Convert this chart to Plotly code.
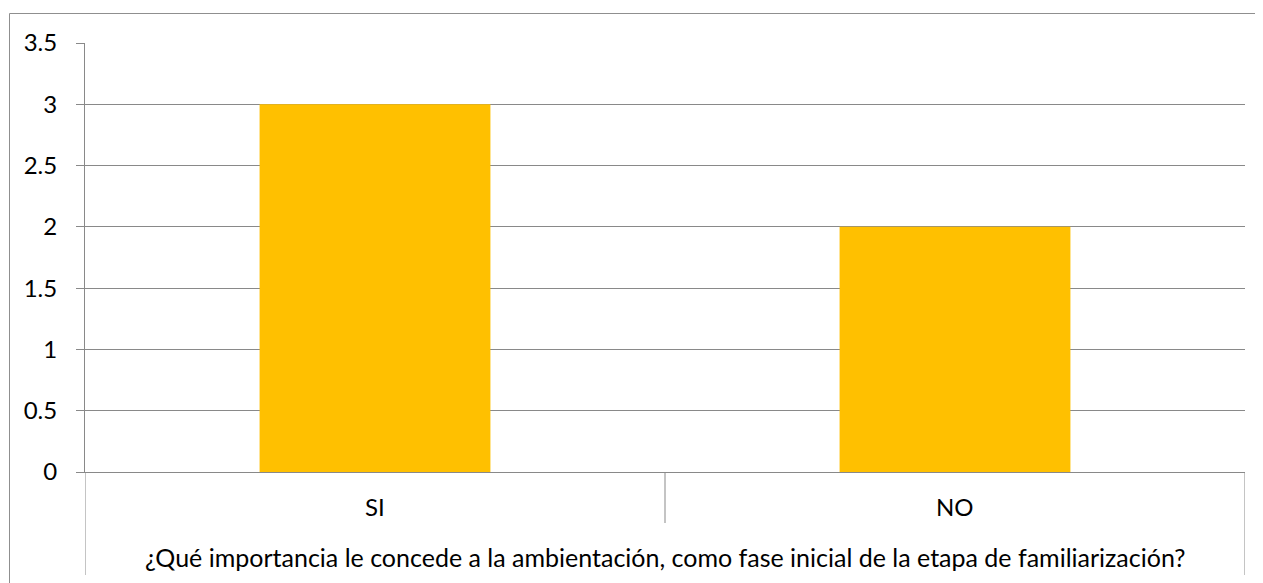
import plotly.graph_objects as go

categories = ["SI", "NO"]
values = [3, 2]
y_ticks = [0, 0.5, 1, 1.5, 2, 2.5, 3, 3.5]
y_tick_labels = ["0", "0.5", "1", "1.5", "2", "2.5", "3", "3.5"]
axis_title = "¿Qué importancia le concede a la ambientación, como fase inicial de la etapa de familiarización?"

FONT = "Lato"
GRID = "#898989"
BAR = "#FFC000"
FS = 24

# page has an 8px body margin; figure coordinates below are page coords minus 8
W, H = 1255, 575
L, R, T, B = 77, 18, 35, 111
ph = H - T - B
pw = W - L - R

def py(pix):
    return (H - B - pix) / ph

def px(pix):
    return (pix - L) / pw

fig = go.Figure()
fig.add_trace(go.Bar(x=categories, y=values, marker=dict(color=BAR, line=dict(width=0)),
                     width=0.398, showlegend=False))

# category table lines below the axis
for xv, bottom in [(-0.5, 567), (0.5, 515), (1.5, 567)]:
    fig.add_shape(type="line", xref="x", yref="paper", x0=xv, x1=xv, y0=0, y1=py(bottom),
                  line=dict(color=GRID, width=1))

# outer chart border
fig.add_shape(type="rect", xref="paper", yref="paper", x0=px(1.5), x1=px(1254.5),
              y0=py(590), y1=py(5.5), line=dict(color="#8f8f8f", width=1))

for c in categories:
    fig.add_annotation(x=c, xref="x", yref="paper", y=py(498), text=c, showarrow=False,
                       font=dict(family=FONT, size=FS, color="#000000"), yanchor="middle")

fig.add_annotation(x=0.5, xref="paper", yref="paper", y=py(549), text=axis_title, showarrow=False,
                   font=dict(family=FONT, size=25, color="#000000"), yanchor="middle")

fig.update_layout(
    width=W, height=H,
    margin=dict(l=L, r=R, t=T, b=B),
    paper_bgcolor="white", plot_bgcolor="white",
    font=dict(family=FONT, size=FS, color="#000000"),
    xaxis=dict(range=[-0.5, 1.5], showticklabels=False, showgrid=False, zeroline=False,
               showline=True, linecolor=GRID, linewidth=1, ticks=""),
    yaxis=dict(range=[0, 3.5], tickvals=y_ticks, ticktext=y_tick_labels, showgrid=True,
               gridcolor=GRID, gridwidth=1, zeroline=False, showline=True, linecolor=GRID,
               linewidth=1, ticks="outside", ticklen=8, tickcolor=GRID, ticklabelstandoff=14,
               tickfont=dict(family=FONT, size=FS, color="#000000")),
    bargap=0.2,
)

fig.write_html("out.html")
